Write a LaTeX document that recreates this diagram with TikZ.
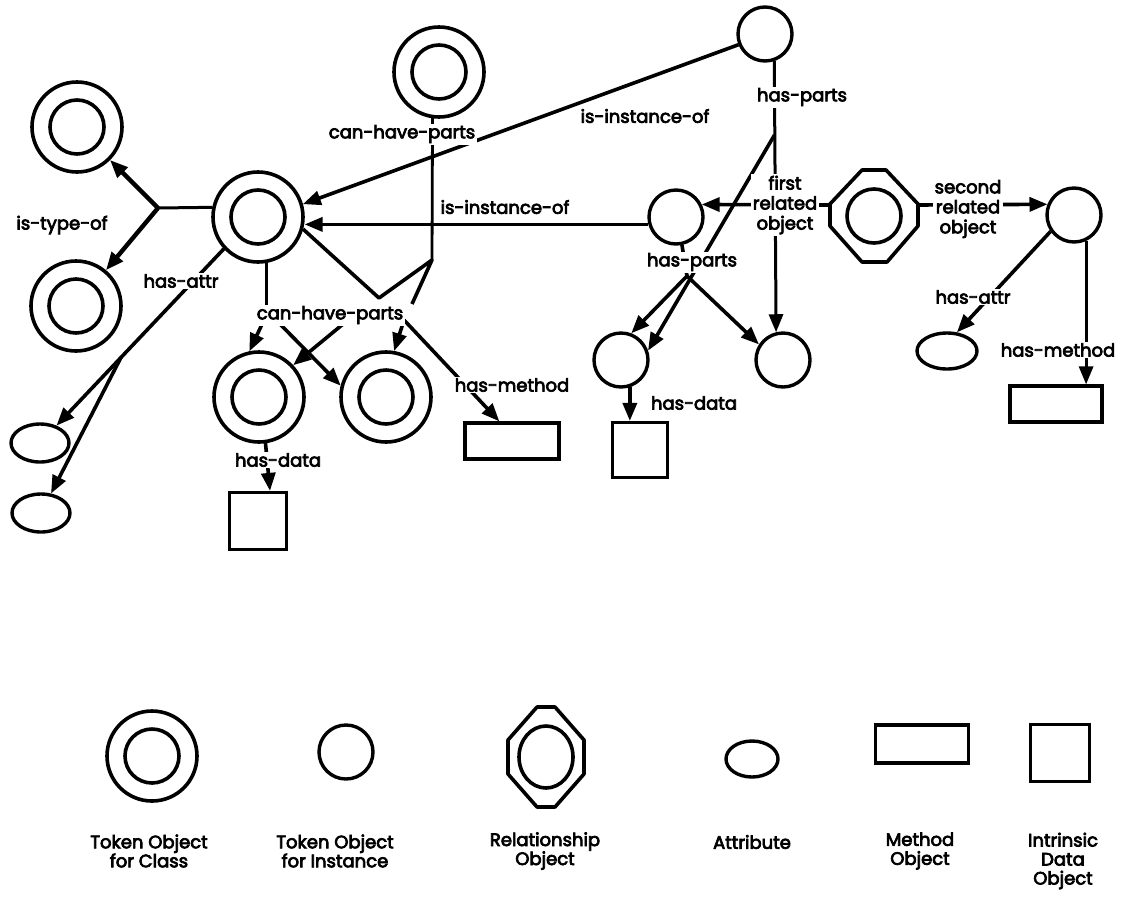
\documentclass[tikz,border=0pt]{standalone}
\usepackage{fontspec}
\setmainfont{Poppins}
\newfontfamily\lblfont{Poppins}[FakeBold=4]
\usetikzlibrary{arrows.meta,calc,shapes.geometric}
\pgfdeclarelayer{bg}
\pgfsetlayers{bg,main}
\begin{document}
\begin{tikzpicture}[x=1pt,y={(0pt,-1pt)},
  every node/.style={inner sep=0pt,outer sep=0pt},
  shapeline/.style={line width=3.6pt,line join=round},
  classobj/.style={circle,draw,line width=3.6pt,minimum size=90pt,fill=white,outer sep=1.6pt,
     path picture={\draw[line width=3.6pt] (path picture bounding box.center) circle (27pt);}},
  instobj/.style={circle,draw,line width=3.4pt,minimum size=54pt,fill=white,outer sep=1.6pt},
  attrobj/.style={ellipse,draw,line width=3.4pt,minimum width=58pt,minimum height=38pt,fill=white,outer sep=1.6pt},
  methobj/.style={rectangle,draw,line width=3.6pt,minimum width=94pt,minimum height=36pt,fill=white,outer sep=1.6pt},
  dataobj/.style={rectangle,draw,line width=3.6pt,minimum width=57pt,minimum height=57pt,fill=white,outer sep=1.6pt},
  relobj/.style={circle,minimum size=88pt},
  lbl/.style={font=\lblfont\fontsize{18}{20}\selectfont,fill=white,inner sep=1.5pt,align=center},
  legtext/.style={font=\lblfont\fontsize{18}{19}\selectfont,align=center},
  conn/.style={line width=3.6pt,line join=round},
  arr/.style={conn,-{Triangle[length=18pt,width=14pt]}},
]
\path[use as bounding box] (0,0) rectangle (1123,911);

% ---------- objects ----------
\node[classobj] (C1) at (77,127) {};
\node[classobj] (C2) at (76,306) {};
\node[classobj] (C3) at (258,217) {};
\node[classobj] (C4) at (439,72) {};
\node[classobj] (C5) at (259,397) {};
\node[classobj] (C6) at (386,397) {};
\node[instobj] (I1) at (765,34) {};
\node[instobj] (I2) at (676,217) {};
\node[instobj] (I3) at (621,360) {};
\node[instobj] (I4) at (783,360) {};
\node[instobj] (I5) at (1074,215) {};
\node[relobj] (R) at (874,216) {};
\draw[shapeline] ($(R)+(-12,-46)$) -- ($(R)+(12,-46)$) -- ($(R)+(44,-12)$) -- ($(R)+(44,10)$)
  -- ($(R)+(13,46)$) -- ($(R)+(-12,46)$) -- ($(R)+(-44,10)$) -- ($(R)+(-44,-12)$) -- cycle;
\draw[shapeline] (R) circle (27pt);
\node[attrobj] (E1) at (40,443) {};
\node[attrobj] (E2) at (41,513) {};
\node[attrobj,minimum width=60pt,minimum height=36pt] (E3) at (947,351) {};
\node[methobj] (M1) at (512,441) {};
\node[methobj,minimum width=92pt] (M2) at (1056,404) {};
\node[dataobj] (D1) at (258,521) {};
\node[dataobj,minimum width=55pt,minimum height=55pt] (D2) at (640,450) {};

% ---------- labels ----------
\node[lbl,fill=none] (Ltype) at (62,225) {is-type-of};
\node[lbl] (La1) at (181,281) {has-attr};
\node[lbl] (Lc1) at (402,134) {can-have-parts};
\node[lbl,fill=none] (Li1) at (645,116) {is-instance-of};
\node[lbl,fill=none] (Li2) at (505,207) {is-instance-of};
\node[lbl] (Lh1) at (802,97) {has-parts};
\node[lbl] (Lh2) at (692,262) {has-parts};
\node[lbl] (Lf) at (785,205) {first\\related\\object};
\node[lbl] (Ls) at (968,209) {second\\related\\object};
\node[lbl] (L2) at (330,315) {can-have-parts};
\node[lbl] (Ld1) at (278,460) {has-data};
\node[lbl] (Lm1) at (512,385) {has-method};
\node[lbl,fill=none] (Ld2) at (694,403) {has-data};
\node[lbl] (La2) at (973,297) {has-attr};
\node[lbl] (Lm2) at (1058,350) {has-method};

% ---------- connectors ----------
\begin{pgfonlayer}{bg}
% is-type-of
\coordinate (J1) at (158,208);
\draw[conn,line width=3pt] (C3.168) -- (J1);
\draw[arr,line width=4.4pt] (J1) -- (C1);
\draw[arr,line width=4.4pt] (J1) -- (C2);
% has-attr (left)
\draw[arr] (C3.-137) -- (E1);
\coordinate (B1) at ($(C3.-137)!0.56!(E1.center)$);
\draw[arr] (B1) -- (E2);
% can-have-parts from C4 and C3
\coordinate (J2) at (432,260);
\coordinate (J3) at (379,298);
\coordinate (J4) at (412,304);
\draw[conn,line width=2.8pt] (C4.-98) -- (J2);
\draw[conn] (C3.-15) -- (J3) -- (J2) -- (J4);
\draw[conn,line width=3pt] (C3.-80) -- (C3.-80 |- L2.north);
\coordinate (P1) at (264,320);
\coordinate (P2) at (276,320);
\coordinate (P3) at (348,320);
\coordinate (P4) at (404,320);
\draw[arr] (P1) -- (C5.102);
\draw[arr] (P2) -- (C6.166);
\draw[arr] (P3) -- (C5.43);
\draw[arr] (P4) -- (C6.80);
\draw[arr] (P4) -- ($(M1.north west)+(36,0)$);
% has-data (left)
\draw[arr] (C5.-82) -- ($(D1.north)+(12,0)$);
% is-instance-of
\draw[arr] (I1.202) -- (C3.16);
\draw[arr] (I2.195) -- (I2.195 -| C3.east);
% has-parts from I1
\coordinate (J5) at (774.5,135);
\draw[arr,line width=3pt] (I1.-71) -- (I4.104);
\draw[arr] (J5) -- (I3.19);
% has-parts from I2
\coordinate (P5) at (687,276);
\draw[conn] (I2.-78) -- (P5);
\draw[arr] (P5) -- (I3.69);
\draw[arr] (P5) -- (I4.147);
% related objects
\coordinate (Rl) at ($(R)+(-44,-11)$);
\coordinate (Rr) at ($(R)+(44,-11)$);
\draw[arr] (Rl) -- (I2.26);
\draw[arr] (Rr) -- (I5.158);
% I5
\draw[arr] (I5.-145) -- (E3.62);
\draw[arr,line width=3pt] (I5.-65) -- (I5.-65 |- M2.north);
% I3 has-data
\draw[arr] (I3.-72) -- (I3.-72 |- D2.north);
\end{pgfonlayer}

% ---------- legend ----------
\node[classobj] (LC) at (152,756) {};
\node[instobj] (LI) at (346,752) {};
\node[relobj] (LR) at (546,757) {};
\draw[shapeline] ($(LR)+(-9,-50)$) -- ($(LR)+(9,-50)$) -- ($(LR)+(38,-17)$) -- ($(LR)+(38,17)$)
  -- ($(LR)+(9,50)$) -- ($(LR)+(-9,50)$) -- ($(LR)+(-38,17)$) -- ($(LR)+(-38,-17)$) -- cycle;
\draw[shapeline] (LR) ellipse (27pt and 31pt);
\node[attrobj,minimum width=52pt,minimum height=36pt] (LA) at (752,759) {};
\node[methobj,minimum width=93pt,minimum height=38pt] (LM) at (922,744) {};
\node[dataobj,minimum width=59pt,minimum height=57pt] (LD) at (1060,753) {};

\node[legtext] (tLC) at (149,851) {Token Object\\for Class};
\node[legtext] (tLI) at (335,851) {Token Object\\for Instance};
\node[legtext] (tLR) at (545,851) {Relationship\\Object};
\node[legtext] (tLA) at (752,842) {Attribute};
\node[legtext] (tLM) at (920,851) {Method\\Object};
\node[legtext] (tLD) at (1063,861) {Intrinsic\\Data\\Object};
\end{tikzpicture}
\end{document}
